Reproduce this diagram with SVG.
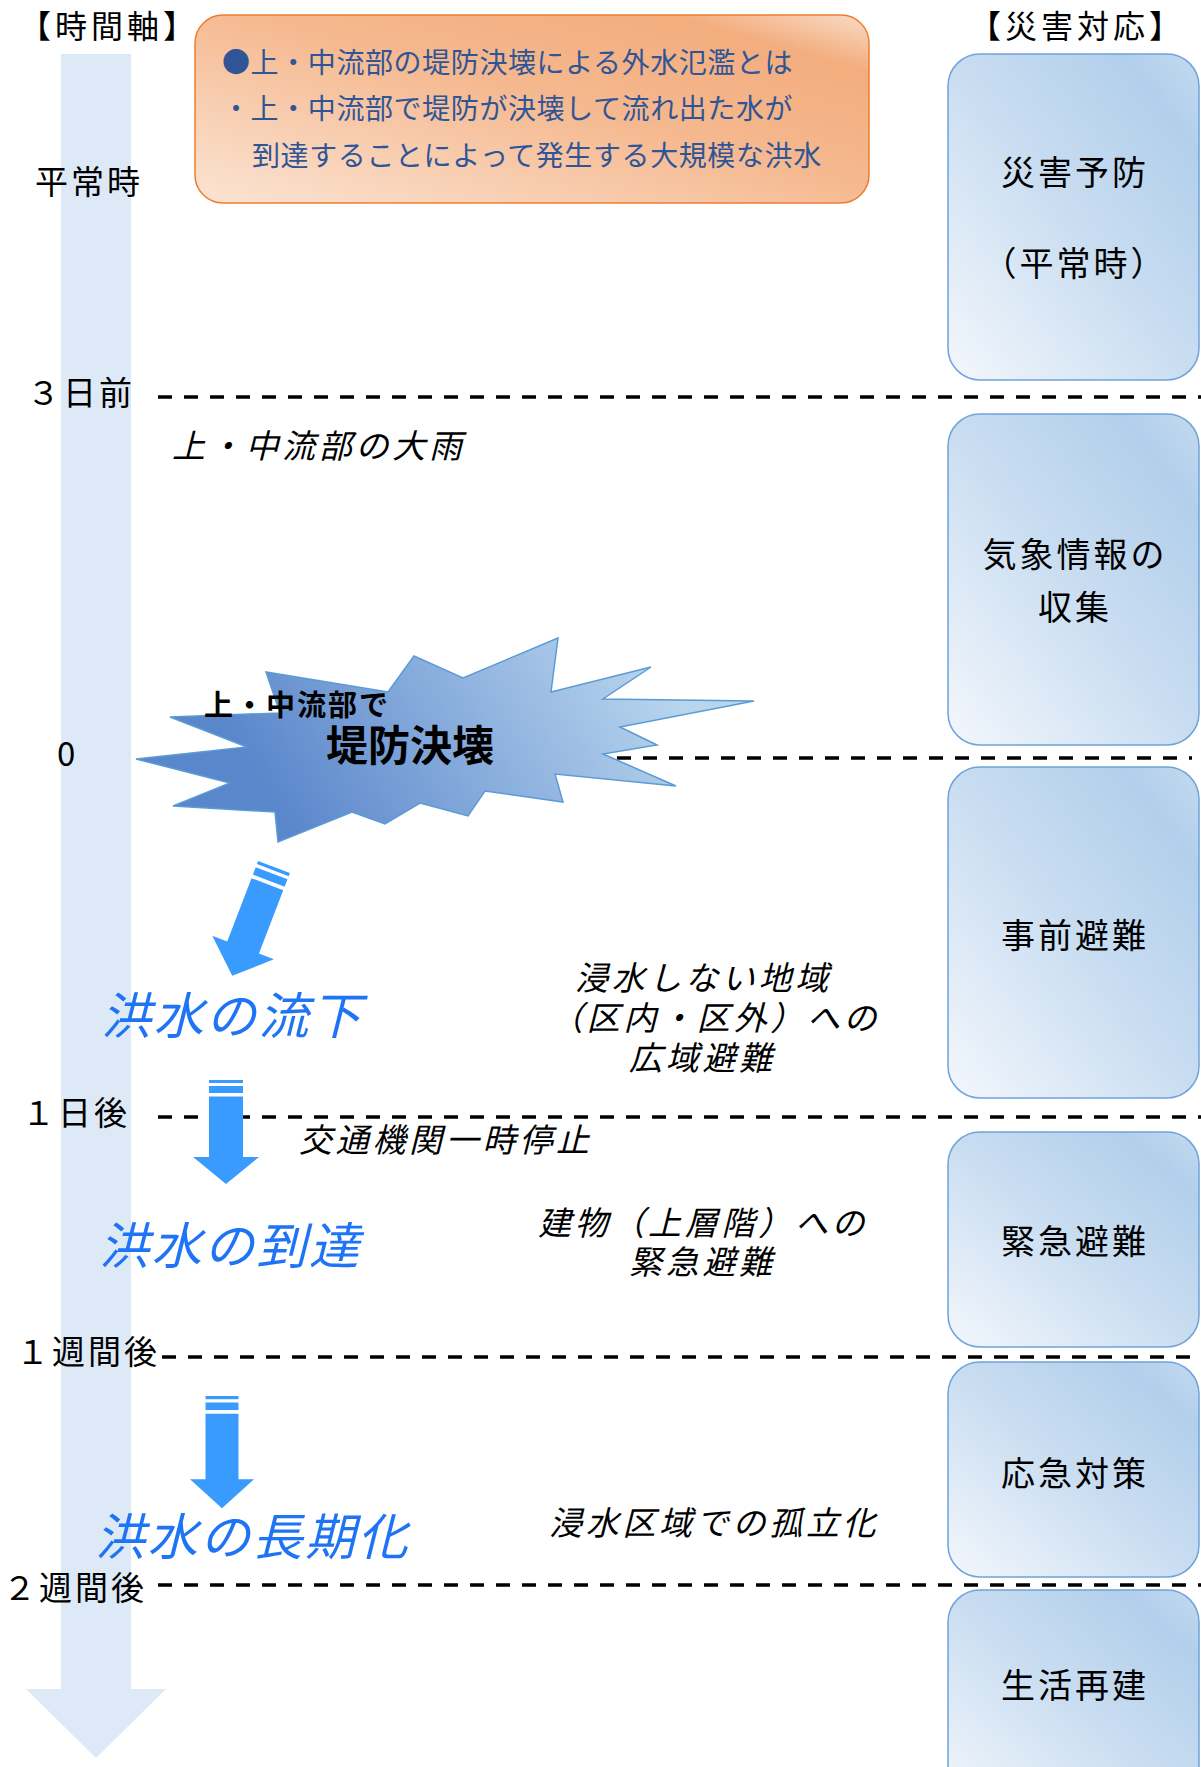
<svg xmlns="http://www.w3.org/2000/svg" width="1201" height="1767" viewBox="0 0 1201 1767">
<defs>
<linearGradient id="gBox" x1="0" y1="1" x2="1" y2="0">
<stop offset="0" stop-color="#f3f7fc"/>
<stop offset="0.5" stop-color="#c9ddf1"/>
<stop offset="0.85" stop-color="#b2cfeb"/>
<stop offset="1" stop-color="#c4daf0"/>
</linearGradient>
<linearGradient id="gOrange" x1="0" y1="1" x2="1" y2="0">
<stop offset="0" stop-color="#fbe4d4"/>
<stop offset="0.55" stop-color="#f5b88e"/>
<stop offset="0.85" stop-color="#f3ad7e"/>
<stop offset="1" stop-color="#f9dcc8"/>
</linearGradient>
<linearGradient id="gBurst" gradientUnits="userSpaceOnUse" x1="640" y1="640" x2="300" y2="850">
<stop offset="0" stop-color="#b8d5ee"/>
<stop offset="1" stop-color="#5a86cb"/>
</linearGradient>
<g id="flowArrow">
<rect x="-17" y="0" width="34" height="3" />
<rect x="-17" y="6" width="34" height="7" />
<polygon points="-17,16.5 17,16.5 17,77 33,77 0,104 -33,77 -17,77" />
</g>
</defs>
<style>
.jp{font-family:'Noto Sans CJK JP','Noto Sans',sans-serif;}
.lbl{font-size:33px;fill:#000;letter-spacing:3px;}
.box{fill:url(#gBox);stroke:#6fa3d9;stroke-width:1.5;}
.boxtxt{font-size:34px;fill:#000;letter-spacing:3px;text-anchor:middle;}
.dash{stroke:#000;stroke-width:3.5;stroke-dasharray:14 12;fill:none;}
.it{font-family:'Liberation Sans','Noto Sans CJK JP',sans-serif;font-size:33px;font-style:italic;fill:#000;letter-spacing:3.7px;}
.flood{font-size:50px;font-style:italic;fill:#1f74f6;letter-spacing:2.5px;}
.otxt{font-size:28px;fill:#2f5597;letter-spacing:0.6px;}
.arrow{fill:#3a9bff;}
</style>

<g id="time-axis">
<rect x="61" y="54" width="70" height="1636" fill="#dde9f6"/>
<polygon points="26,1689 166,1689 96,1758" fill="#dde9f6"/>
</g>

<g id="headings" class="jp">
<text x="19" y="38" class="lbl" style="font-size:32px;letter-spacing:4px">【時間軸】</text>
<text x="969" y="38" class="lbl" style="font-size:32px;letter-spacing:4px">【災害対応】</text>
</g>

<g id="time-labels" class="jp">
<text x="35" y="194" class="lbl">平常時</text>
<text x="27" y="405" class="lbl">３日前</text>
<text x="57" y="766" class="lbl">0</text>
<text x="22" y="1125" class="lbl">１日後</text>
<text x="16" y="1364" class="lbl">１週間後</text>
<text x="3" y="1600" class="lbl">２週間後</text>
</g>

<g id="time-lines">
<line class="dash" x1="158" y1="397" x2="1201" y2="397"/>
<line class="dash" x1="617" y1="758" x2="1192" y2="758"/>
<line class="dash" x1="158" y1="1117" x2="1201" y2="1117"/>
<line class="dash" x1="162" y1="1357" x2="1201" y2="1357"/>
<line class="dash" x1="158" y1="1585" x2="1201" y2="1585"/>
</g>

<g id="definition-box">
<rect x="195" y="15" width="674" height="188" rx="28" ry="28" fill="url(#gOrange)" stroke="#ed7d31" stroke-width="1.5"/>
<text class="jp otxt"><tspan x="222" y="73">●上・中流部の堤防決壊による外水氾濫とは</tspan><tspan x="222" y="119">・上・中流部で堤防が決壊して流れ出た水が</tspan><tspan x="252" y="166">到達することによって発生する大規模な洪水</tspan></text>
</g>

<g id="resp-prevention">
<rect class="box" x="948" y="54" width="251" height="326" rx="32" ry="32"/>
<text x="1075" y="185" class="jp boxtxt">災害予防</text>
<text x="1075" y="276" class="jp boxtxt">（平常時）</text>
</g>
<g id="resp-weather">
<rect class="box" x="948" y="414" width="251" height="331" rx="32" ry="32"/>
<text class="jp boxtxt"><tspan x="1075" y="567">気象情報の</tspan><tspan x="1075" y="620">収集</tspan></text>
</g>
<g id="resp-advance-evac">
<rect class="box" x="948" y="767" width="251" height="331" rx="32" ry="32"/>
<text x="1075" y="948" class="jp boxtxt">事前避難</text>
</g>
<g id="resp-emergency-evac">
<rect class="box" x="948" y="1132" width="251" height="215" rx="32" ry="32"/>
<text x="1075" y="1254" class="jp boxtxt">緊急避難</text>
</g>
<g id="resp-emergency-measures">
<rect class="box" x="948" y="1362" width="251" height="215" rx="32" ry="32"/>
<text x="1075" y="1486" class="jp boxtxt">応急対策</text>
</g>
<g id="resp-rebuild">
<rect class="box" x="948" y="1590" width="251" height="220" rx="32" ry="32"/>
<text x="1075" y="1698" class="jp boxtxt">生活再建</text>
</g>

<g id="event-rain">
<text x="172" y="458" class="it">上・中流部の大雨</text>
</g>

<g id="event-breach">
<polygon fill="url(#gBurst)" stroke="#5b9bd5" stroke-width="1.5" stroke-linejoin="miter" points="388,692 414,656 463,678 558,638 551,692 651,667 603,699 754,701 620,727 657,745 603,754 676,786 555,774 563,802 485,791 468,816 420,803 385,824 352,812 278,842 275,812 173,806 230,783 136,759 247,747 170,717 280,713 266,672"/>
<text class="jp" style="font-weight:bold"><tspan x="204" y="716" style="font-size:29px;letter-spacing:2px">上・中流部で</tspan><tspan x="326" y="761" style="font-size:42px">堤防決壊</tspan></text>
</g>

<g id="connectors" class="arrow">
<use href="#flowArrow" transform="translate(274,867) rotate(21) scale(1,1.12)"/>
<use href="#flowArrow" transform="translate(226,1080)"/>
<use href="#flowArrow" transform="translate(222,1396) scale(0.97,1.08)"/>
</g>

<g id="flood-flow">
<text x="101" y="1034" class="jp flood">洪水の流下</text>
<text class="it"><tspan x="575" y="990">浸水しない地域</tspan><tspan x="550" y="1030">（区内・区外）への</tspan><tspan x="629" y="1070">広域避難</tspan></text>
</g>
<g id="traffic">
<text x="299" y="1152" class="it">交通機関一時停止</text>
</g>
<g id="flood-arrival">
<text x="99" y="1264" class="jp flood">洪水の到達</text>
<text class="it"><tspan x="538" y="1235">建物（上層階）への</tspan><tspan x="629" y="1274">緊急避難</tspan></text>
</g>
<g id="flood-prolonged">
<text x="95" y="1555" class="jp flood">洪水の長期化</text>
<text x="549" y="1535" class="it">浸水区域での孤立化</text>
</g>
</svg>
